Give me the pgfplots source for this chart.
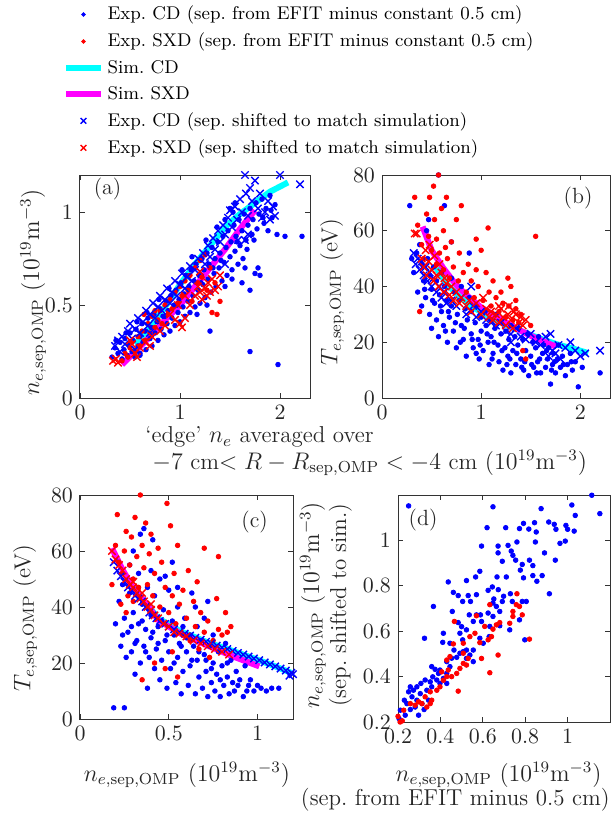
\documentclass[border=0pt]{standalone}
\usepackage{pgfplots}
\pgfplotsset{compat=1.18}
\definecolor{mcyan}{rgb}{0,1,1}
\definecolor{mmag}{rgb}{1,0,1}
\definecolor{mblue}{rgb}{0,0,1}
\definecolor{mred}{rgb}{1,0,0}

\pgfplotsset{
  panel/.style={
    scale only axis, anchor=south west,
    tick align=inside, major tick length=2.5pt,
    axis line style={black!80, line width=0.5pt},
    every tick/.style={black!80, line width=0.4pt},
    tick label style={font=\fontsize{11}{13}\selectfont, text=black!85},
    label style={font=\fontsize{11.5}{13.5}\selectfont, text=black!85},
  },
  bdot/.style={only marks, mark=*, mark size=1.15pt, mblue, mark options={draw=mblue, fill=mblue}},
  rdot/.style={only marks, mark=*, mark size=1.15pt, mred, mark options={draw=mred, fill=mred}},
  bx/.style={only marks, mark=x, mark size=2.6pt, mblue, mark options={line width=0.7pt}},
  rx/.style={only marks, mark=x, mark size=2.6pt, mred, mark options={line width=0.7pt}},
  simcd/.style={mcyan, line width=3pt, no marks},
  simsxd/.style={mmag, line width=3pt, no marks},
}

\begin{document}
\begin{tikzpicture}
\useasboundingbox (0,0) rectangle (305.5pt,-409pt);

% ---------------- (a) ----------------
\begin{axis}[panel, at={(40pt,-199pt)}, width=115pt, height=111.5pt,
  xmin=0, xmax=2.3, ymin=0, ymax=1.2,
  xtick={0,1,2}, ytick={0,0.5,1},
  ylabel={$n_{e,\mathrm{sep,OMP}}$ $(10^{19}\mathrm{m}^{-3})$},
  ylabel style={at={(axis description cs:-0.204,0.475)}, anchor=center},
  legend style={at={(axis description cs:-0.1,1.795)}, anchor=north west,
    draw=none, fill=none, font=\fontsize{9.2}{11}\selectfont, row sep=1.1pt},
  legend cell align=left]
\addlegendimage{only marks, mark=*, mark size=0.9pt, mblue}
\addlegendimage{only marks, mark=*, mark size=0.9pt, mred}
\addlegendimage{mcyan, line width=3pt}
\addlegendimage{mmag, line width=3pt}
\addlegendimage{only marks, mark=x, mark size=2pt, mblue, mark options={line width=0.7pt}}
\addlegendimage{only marks, mark=x, mark size=2pt, mred, mark options={line width=0.7pt}}
\legend{Exp.\ CD (sep.\ from EFIT minus constant 0.5 cm),
  Exp.\ SXD (sep.\ from EFIT minus constant 0.5 cm),
  Sim.\ CD, Sim.\ SXD,
  Exp.\ CD (sep.\ shifted to match simulation),
  Exp.\ SXD (sep.\ shifted to match simulation)}

\addplot[bdot, forget plot] table[row sep=\\] {x y\\
0.32 0.22\\ 0.35 0.27\\ 0.38 0.24\\ 0.40 0.30\\ 0.42 0.21\\ 0.44 0.26\\ 0.45 0.32\\ 0.47 0.23\\
0.48 0.29\\ 0.50 0.35\\ 0.52 0.25\\ 0.53 0.31\\ 0.55 0.22\\ 0.56 0.37\\ 0.58 0.28\\ 0.60 0.33\\
0.60 0.23\\ 0.62 0.40\\ 0.63 0.30\\ 0.65 0.36\\ 0.66 0.26\\ 0.68 0.43\\ 0.70 0.32\\ 0.71 0.38\\
0.72 0.28\\ 0.74 0.45\\ 0.75 0.35\\ 0.77 0.41\\ 0.78 0.31\\ 0.80 0.48\\ 0.81 0.37\\ 0.83 0.44\\
0.84 0.34\\ 0.86 0.52\\ 0.87 0.40\\ 0.88 0.47\\ 0.90 0.36\\ 0.91 0.55\\ 0.92 0.43\\ 0.94 0.50\\
0.95 0.39\\ 0.96 0.58\\ 0.98 0.46\\ 0.99 0.53\\ 1.00 0.41\\ 1.01 0.62\\ 1.03 0.49\\ 1.04 0.56\\
1.05 0.44\\ 1.06 0.66\\ 1.08 0.52\\ 1.09 0.60\\ 1.10 0.46\\ 1.11 0.69\\ 1.13 0.55\\ 1.14 0.63\\
1.15 0.49\\ 1.16 0.72\\ 1.18 0.58\\ 1.19 0.66\\ 1.20 0.51\\ 1.22 0.75\\ 1.23 0.61\\ 1.24 0.69\\
1.25 0.54\\ 1.27 0.78\\ 1.28 0.64\\ 1.29 0.72\\ 1.30 0.36\\ 1.31 0.57\\ 1.32 0.81\\ 1.34 0.67\\
1.35 0.75\\ 1.36 0.60\\ 1.38 0.84\\ 1.39 0.70\\ 1.40 0.78\\ 1.42 0.63\\ 1.43 0.87\\ 1.44 0.73\\
1.46 0.81\\ 1.47 0.66\\ 1.48 0.90\\ 1.50 0.76\\ 1.51 0.84\\ 1.52 0.69\\ 1.54 0.93\\ 1.55 0.79\\
1.56 0.87\\ 1.58 0.72\\ 1.59 0.96\\ 1.60 0.82\\ 1.62 0.90\\ 1.63 0.75\\ 1.64 0.99\\ 1.65 0.70\\
1.66 0.85\\ 1.68 0.93\\ 1.70 1.02\\ 1.70 0.58\\ 1.72 0.88\\ 1.73 0.96\\ 1.75 0.67\\ 1.76 1.05\\
1.77 0.91\\ 1.79 0.99\\ 1.80 0.66\\ 1.82 1.07\\ 1.84 0.94\\ 1.86 1.02\\ 1.88 0.90\\ 1.90 1.09\\
1.92 0.97\\ 1.95 1.04\\ 1.97 0.88\\ 2.05 0.87\\ 2.22 0.87\\ 1.70 0.25\\ 1.98 0.18\\ 0.60 0.24\\
1.78 0.70\\ 1.50 1.02\\ 1.55 1.05\\ 1.62 0.62\\ 0.36 0.31\\ 0.46 0.35\\ 0.57 0.41\\ 0.67 0.46\\
0.79 0.53\\ 0.89 0.59\\ 1.02 0.69\\ 1.12 0.76\\ 1.26 0.85\\ 1.37 0.92\\ 1.45 0.96\\ 1.53 1.00\\
0.85 0.44\\ 0.97 0.50\\ 1.21 0.62\\ 1.33 0.70\\ 1.41 0.74\\ 1.57 0.84\\ 1.67 0.80\\ 1.74 0.85\\
1.83 0.97\\ 1.91 1.01\\ 1.45 0.60\\ 1.52 0.64\\ 1.27 0.50\\ 1.17 0.45\\
};
\addplot[rdot, forget plot] table[row sep=\\] {x y\\
0.42 0.20\\ 0.45 0.24\\ 0.48 0.22\\ 0.50 0.27\\ 0.52 0.30\\ 0.55 0.25\\ 0.58 0.33\\ 0.60 0.28\\
0.62 0.36\\ 0.65 0.31\\ 0.68 0.40\\ 0.70 0.35\\ 0.72 0.44\\ 0.75 0.38\\ 0.78 0.42\\ 0.80 0.47\\
0.82 0.40\\ 0.85 0.50\\ 0.88 0.45\\ 0.90 0.53\\ 0.92 0.48\\ 0.95 0.57\\ 0.98 0.51\\ 1.00 0.60\\
1.02 0.55\\ 1.05 0.63\\ 1.08 0.58\\ 1.10 0.66\\ 1.12 0.52\\ 1.15 0.70\\ 1.18 0.62\\ 1.20 0.74\\
1.22 0.65\\ 1.25 0.77\\ 1.27 0.58\\ 1.30 0.70\\ 1.32 0.46\\ 1.35 0.62\\ 1.37 0.45\\ 1.40 0.52\\
0.64 0.45\\ 0.75 0.47\\
};
\addplot[bx, forget plot] table[row sep=\\] {x y\\
0.35 0.28\\ 0.38 0.31\\ 0.40 0.25\\ 0.42 0.33\\ 0.45 0.29\\ 0.48 0.36\\ 0.50 0.40\\ 0.52 0.32\\
0.55 0.37\\ 0.58 0.43\\ 0.60 0.35\\ 0.63 0.41\\ 0.66 0.47\\ 0.68 0.39\\ 0.70 0.45\\ 0.73 0.51\\
0.75 0.43\\ 0.78 0.49\\ 0.80 0.55\\ 0.82 0.47\\ 0.85 0.53\\ 0.87 0.59\\ 0.90 0.51\\ 0.92 0.57\\
0.95 0.63\\ 0.97 0.55\\ 1.00 0.61\\ 1.02 0.67\\ 1.05 0.59\\ 1.07 0.65\\ 1.10 0.71\\ 1.12 0.63\\
1.15 0.69\\ 1.18 0.75\\ 1.20 0.68\\ 1.23 0.78\\ 1.25 0.72\\ 1.28 0.82\\ 1.30 0.76\\ 1.33 0.86\\
1.35 0.80\\ 1.38 0.90\\ 1.40 0.84\\ 1.43 0.93\\ 1.45 0.88\\ 1.48 0.97\\ 1.50 1.01\\ 1.52 0.92\\
1.55 1.03\\ 1.57 0.96\\ 1.60 1.07\\ 1.62 1.00\\ 1.65 1.20\\ 1.66 1.10\\ 1.68 0.98\\ 1.70 1.13\\
1.72 1.06\\ 1.75 1.17\\ 1.78 1.02\\ 1.80 1.10\\ 1.82 0.97\\ 1.85 1.00\\ 1.88 1.06\\ 1.90 0.96\\
1.93 1.03\\ 1.95 0.98\\ 2.00 1.20\\ 2.20 1.15\\ 1.65 0.85\\ 1.68 0.88\\ 1.58 0.85\\ 1.45 0.72\\
0.70 0.35\\ 0.55 0.26\\
};
\addplot[rx, forget plot] table[row sep=\\] {x y\\
0.33 0.20\\ 0.36 0.21\\ 0.38 0.19\\ 0.50 0.31\\ 0.52 0.29\\ 0.55 0.24\\ 0.57 0.22\\ 0.60 0.27\\
0.65 0.30\\ 0.70 0.28\\ 0.72 0.33\\ 0.80 0.36\\ 0.85 0.39\\ 0.90 0.45\\ 0.95 0.42\\ 1.00 0.40\\
1.02 0.38\\ 1.05 0.43\\ 1.10 0.50\\ 1.15 0.55\\ 1.18 0.60\\ 1.20 0.57\\ 1.22 0.53\\ 1.25 0.59\\
1.27 0.55\\ 1.28 0.62\\ 1.30 0.57\\ 1.32 0.64\\ 1.35 0.58\\ 1.38 0.60\\ 1.40 0.66\\ 1.20 0.68\\
1.05 0.55\\ 0.98 0.50\\
};
\addplot[simcd, forget plot] table[row sep=\\] {x y\\
0.55 0.29\\ 0.70 0.38\\ 0.85 0.49\\ 1.00 0.61\\ 1.15 0.72\\ 1.30 0.82\\ 1.45 0.92\\ 1.60 0.99\\
1.75 1.05\\ 1.90 1.11\\ 2.08 1.16\\
};
\addplot[simsxd, forget plot] table[row sep=\\] {x y\\
0.42 0.18\\ 0.55 0.25\\ 0.70 0.33\\ 0.85 0.42\\ 1.00 0.50\\ 1.15 0.60\\ 1.30 0.70\\ 1.45 0.80\\
1.60 0.91\\ 1.75 1.01\\
};
\node[font=\fontsize{11}{13}\selectfont, text=black!85] at (axis description cs:0.12,0.935) {(a)};
\end{axis}

% ---------------- (b) ----------------
\begin{axis}[panel, at={(191pt,-199pt)}, width=114pt, height=111.5pt,
  xmin=0, xmax=2.3, ymin=0, ymax=80,
  xtick={0,1,2}, ytick={0,20,40,60,80},
  ylabel={$T_{e,\mathrm{sep,OMP}}$ (eV)},
  ylabel style={at={(axis description cs:-0.219,0.475)}, anchor=center}]
\addplot[bdot] table[row sep=\\] {x y\\
0.30 50\\ 0.32 45\\ 0.35 52\\ 0.36 38\\ 0.38 55\\ 0.40 33\\ 0.40 48\\ 0.42 42\\ 0.44 36\\ 0.45 60\\
0.46 50\\ 0.48 30\\ 0.48 44\\ 0.50 39\\ 0.50 25\\ 0.52 47\\ 0.53 34\\ 0.55 28\\ 0.55 42\\ 0.57 22\\
0.58 37\\ 0.60 45\\ 0.60 31\\ 0.62 26\\ 0.63 40\\ 0.65 35\\ 0.66 20\\ 0.68 29\\ 0.70 43\\ 0.70 33\\
0.72 24\\ 0.73 38\\ 0.75 18\\ 0.76 30\\ 0.78 35\\ 0.80 26\\ 0.80 40\\ 0.82 21\\ 0.84 32\\ 0.85 15\\
0.86 28\\ 0.88 36\\ 0.90 23\\ 0.90 31\\ 0.92 18\\ 0.94 27\\ 0.95 33\\ 0.97 21\\ 0.98 14\\ 1.00 29\\
1.00 24\\ 1.02 17\\ 1.04 31\\ 1.05 26\\ 1.07 20\\ 1.08 12\\ 1.10 28\\ 1.10 22\\ 1.12 16\\ 1.14 25\\
1.15 30\\ 1.17 19\\ 1.18 13\\ 1.20 23\\ 1.20 27\\ 1.22 10\\ 1.24 18\\ 1.25 24\\ 1.27 15\\ 1.28 21\\
1.30 26\\ 1.30 9\\ 1.32 17\\ 1.34 22\\ 1.35 12\\ 1.37 19\\ 1.38 25\\ 1.40 14\\ 1.42 21\\ 1.43 10\\
1.45 17\\ 1.47 23\\ 1.48 8\\ 1.50 15\\ 1.52 20\\ 1.53 11\\ 1.55 18\\ 1.57 13\\ 1.58 22\\ 1.60 9\\
1.62 16\\ 1.63 19\\ 1.65 11\\ 1.67 14\\ 1.68 18\\ 1.70 5\\ 1.72 12\\ 1.73 16\\ 1.75 9\\ 1.77 14\\
1.78 19\\ 1.80 11\\ 1.82 15\\ 1.85 8\\ 1.87 12\\ 1.90 16\\ 1.92 10\\ 1.95 13\\ 1.98 4\\ 2.02 11\\
2.20 9\\ 0.57 80\\ 0.28 69\\ 0.63 69\\ 0.88 52\\ 0.70 56\\ 0.47 64\\ 0.43 39\\ 0.51 35\\ 0.59 33\\
0.67 31\\ 0.74 27\\ 0.83 25\\ 0.91 21\\ 0.99 19\\ 1.06 23\\ 1.13 20\\ 1.21 17\\ 1.29 14\\ 1.36 16\\
1.44 13\\ 1.51 12\\ 1.59 14\\ 1.66 17\\ 1.74 13\\ 1.83 12\\ 1.91 13\\ 0.64 24\\ 0.79 20\\ 0.95 16\\
1.11 14\\ 1.26 12\\ 1.41 11\\ 1.56 9\\ 1.71 10\\
};
\addplot[rdot] table[row sep=\\] {x y\\
0.33 72\\ 0.36 62\\ 0.40 55\\ 0.42 50\\ 0.45 66\\ 0.47 58\\ 0.48 72\\ 0.50 53\\ 0.52 76\\ 0.53 64\\
0.55 48\\ 0.55 57\\ 0.57 80\\ 0.58 52\\ 0.60 68\\ 0.62 46\\ 0.62 60\\ 0.64 54\\ 0.66 50\\ 0.68 43\\
0.70 56\\ 0.72 47\\ 0.75 64\\ 0.77 42\\ 0.78 52\\ 0.80 69\\ 0.82 45\\ 0.85 38\\ 0.87 48\\ 0.90 42\\
0.93 36\\ 0.95 46\\ 0.97 40\\ 1.00 53\\ 1.02 35\\ 1.05 45\\ 1.07 61\\ 1.08 38\\ 1.10 33\\ 1.12 42\\
1.15 36\\ 1.18 31\\ 1.20 38\\ 1.22 34\\ 1.25 29\\ 1.27 43\\ 1.28 33\\ 1.30 40\\ 1.32 28\\ 1.35 32\\
1.38 27\\ 1.40 30\\ 1.42 17\\ 1.45 14\\ 1.50 26\\ 1.55 58\\ 1.35 35\\ 0.38 31\\ 0.95 57\\ 0.65 72\\
};
\addplot[bx] table[row sep=\\] {x y\\
0.32 52\\ 0.34 48\\ 0.36 50\\ 0.38 46\\ 0.40 49\\ 0.42 44\\ 0.44 47\\ 0.46 42\\ 0.48 45\\ 0.50 40\\
0.52 43\\ 0.55 38\\ 0.58 40\\ 0.60 36\\ 0.63 38\\ 0.65 34\\ 0.70 35\\ 0.75 33\\ 0.80 36\\ 0.85 30\\
0.90 40\\ 0.92 33\\ 0.95 29\\ 1.00 31\\ 1.05 28\\ 1.10 27\\ 1.15 26\\ 1.20 27\\ 1.25 24\\ 1.30 23\\
1.35 25\\ 1.40 22\\ 1.45 21\\ 1.50 23\\ 1.55 20\\ 1.60 19\\ 1.65 22\\ 1.70 23\\ 1.72 17\\ 1.75 16\\
1.78 19\\ 1.80 14\\ 1.85 18\\ 1.90 20\\ 1.95 17\\ 2.00 15\\ 2.05 16\\ 2.20 17\\ 1.68 15\\ 1.30 20\\
};
\addplot[rx] table[row sep=\\] {x y\\
0.33 59\\ 0.35 59\\ 0.40 50\\ 0.42 47\\ 0.44 53\\ 0.45 44\\ 0.47 49\\ 0.48 55\\ 0.50 46\\ 0.52 42\\
0.53 51\\ 0.55 44\\ 0.57 40\\ 0.58 48\\ 0.60 45\\ 0.62 38\\ 0.63 43\\ 0.65 41\\ 0.68 37\\ 0.70 40\\
0.72 35\\ 0.75 38\\ 0.78 34\\ 0.80 36\\ 0.85 33\\ 0.88 35\\ 0.90 31\\ 0.95 34\\ 1.00 30\\ 1.02 36\\
1.05 32\\ 1.08 29\\ 1.10 31\\ 1.12 28\\ 1.15 30\\ 1.18 27\\ 1.20 32\\ 1.22 29\\ 1.25 26\\ 1.27 30\\
1.30 28\\ 1.32 25\\ 1.35 30\\ 1.38 27\\ 1.40 29\\ 1.42 26\\ 1.45 28\\ 1.28 33\\ 1.33 31\\ 1.18 33\\
};
\addplot[simcd] table[row sep=\\] {x y\\
0.55 46.6\\ 0.65 41\\ 0.78 36.4\\ 0.92 32.5\\ 1.05 29.9\\ 1.25 26.3\\ 1.45 23.3\\ 1.62 21\\
1.78 19.1\\ 1.95 17.5\\ 2.08 16.1\\
};
\addplot[simsxd] table[row sep=\\] {x y\\
0.41 61.5\\ 0.50 53\\ 0.62 46.5\\ 0.75 40.5\\ 0.85 37\\ 1.00 32.5\\ 1.18 28.7\\ 1.35 25\\
1.52 22\\ 1.65 20\\ 1.75 18.5\\
};
\node[font=\fontsize{11}{13}\selectfont, text=black!85] at (axis description cs:0.86,0.897) {(b)};
\end{axis}

% ---------------- (c) ----------------
\begin{axis}[panel, at={(40pt,-359.5pt)}, width=106.5pt, height=112pt,
  xmin=0, xmax=1.2, ymin=0, ymax=80,
  xtick={0,0.5,1}, ytick={0,20,40,60,80},
  ylabel={$T_{e,\mathrm{sep,OMP}}$ (eV)},
  ylabel style={at={(axis description cs:-0.258,0.451)}, anchor=center},
  xlabel={$n_{e,\mathrm{sep,OMP}}$ $(10^{19}\mathrm{m}^{-3})$},
  xlabel style={at={(axis description cs:0.502,-0.25)}, anchor=center}]
\addplot[bdot] table[row sep=\\] {x y\\
0.19 4\\ 0.25 4\\ 0.20 34\\ 0.22 42\\ 0.23 26\\ 0.24 48\\ 0.25 36\\ 0.26 22\\ 0.27 31\\ 0.28 45\\
0.29 24\\ 0.30 38\\ 0.31 16\\ 0.32 28\\ 0.33 52\\ 0.33 34\\ 0.34 20\\ 0.35 41\\ 0.36 26\\ 0.36 68\\
0.37 32\\ 0.38 11\\ 0.38 47\\ 0.39 22\\ 0.40 37\\ 0.40 29\\ 0.41 64\\ 0.42 18\\ 0.42 44\\ 0.43 25\\
0.44 33\\ 0.45 50\\ 0.45 14\\ 0.46 21\\ 0.47 39\\ 0.48 28\\ 0.49 11\\ 0.50 46\\ 0.50 24\\ 0.51 18\\
0.52 35\\ 0.53 30\\ 0.54 13\\ 0.55 40\\ 0.55 22\\ 0.56 27\\ 0.57 9\\ 0.58 33\\ 0.58 17\\ 0.59 36\\
0.60 24\\ 0.61 12\\ 0.62 30\\ 0.62 19\\ 0.63 45\\ 0.64 26\\ 0.65 9\\ 0.66 21\\ 0.66 33\\ 0.67 15\\
0.68 28\\ 0.69 11\\ 0.70 23\\ 0.70 36\\ 0.71 17\\ 0.72 8\\ 0.73 26\\ 0.74 13\\ 0.75 20\\ 0.75 30\\
0.76 10\\ 0.77 16\\ 0.78 24\\ 0.79 8\\ 0.80 19\\ 0.81 12\\ 0.82 27\\ 0.83 15\\ 0.84 9\\ 0.85 21\\
0.86 13\\ 0.87 10\\ 0.88 17\\ 0.90 14\\ 0.92 8\\ 0.93 19\\ 0.95 12\\ 0.96 14\\ 0.98 10\\ 1.00 12\\
1.02 11\\ 1.05 10\\ 1.08 11\\ 1.12 11\\ 0.40 53\\ 0.48 51\\ 0.30 60\\ 0.28 55\\ 0.55 47\\ 0.65 40\\
0.72 42\\ 0.34 66\\ 0.52 56\\ 0.24 30\\ 0.29 33\\ 0.31 27\\ 0.35 35\\ 0.37 24\\ 0.41 31\\ 0.44 27\\
0.46 35\\ 0.49 30\\ 0.53 20\\ 0.57 26\\ 0.60 29\\ 0.63 21\\ 0.67 24\\ 0.71 21\\ 0.74 18\\ 0.79 14\\
0.83 20\\ 0.89 12\\ 0.94 10\\
};
\addplot[rdot] table[row sep=\\] {x y\\
0.18 48\\ 0.20 62\\ 0.21 73\\ 0.22 56\\ 0.23 41\\ 0.24 52\\ 0.25 60\\ 0.26 67\\ 0.27 44\\ 0.28 55\\
0.29 65\\ 0.30 50\\ 0.31 72\\ 0.32 58\\ 0.33 47\\ 0.34 80\\ 0.35 62\\ 0.36 54\\ 0.37 70\\ 0.38 48\\
0.39 59\\ 0.40 66\\ 0.41 44\\ 0.42 52\\ 0.44 61\\ 0.45 40\\ 0.46 56\\ 0.48 47\\ 0.49 77\\ 0.50 38\\
0.51 69\\ 0.52 44\\ 0.53 52\\ 0.54 34\\ 0.55 62\\ 0.56 41\\ 0.58 30\\ 0.58 46\\ 0.60 36\\ 0.61 53\\
0.62 28\\ 0.64 42\\ 0.65 33\\ 0.66 49\\ 0.67 25\\ 0.68 38\\ 0.70 31\\ 0.70 61\\ 0.72 35\\ 0.73 22\\
0.75 28\\ 0.77 43\\ 0.78 32\\ 0.80 30\\ 0.82 38\\ 0.83 31\\ 0.85 33\\ 0.78 58\\ 0.35 14\\ 0.42 20\\
0.48 18\\ 0.55 15\\ 0.30 42\\ 0.26 38\\ 0.52 24\\
};
\addplot[bx] table[row sep=\\] {x y\\
0.19 56\\ 0.21 53\\ 0.23 51\\ 0.25 49\\ 0.27 47\\ 0.29 46\\ 0.31 44\\ 0.33 43\\ 0.35 42\\ 0.37 40\\
0.39 38\\ 0.41 37\\ 0.43 36\\ 0.45 35\\ 0.48 34\\ 0.50 33\\ 0.53 32\\ 0.56 31\\ 0.59 30.5\\ 0.62 29.8\\
0.65 29\\ 0.68 28.3\\ 0.71 27.6\\ 0.74 27\\ 0.77 26.2\\ 0.80 25.5\\ 0.83 25\\ 0.86 24.3\\ 0.89 23.6\\
0.92 23\\ 0.95 22.3\\ 0.98 21.6\\ 1.01 21\\ 1.04 20.2\\ 1.07 19.5\\ 1.10 18.8\\ 1.13 18\\ 1.16 17.3\\
1.19 16.5\\ 1.18 15.5\\ 1.20 16\\
};
\addplot[rx] table[row sep=\\] {x y\\
0.18 60\\ 0.20 57\\ 0.22 55\\ 0.24 53\\ 0.26 50\\ 0.28 48\\ 0.30 47\\ 0.32 45\\ 0.34 43\\ 0.36 42\\
0.38 40\\ 0.40 39\\ 0.42 37\\ 0.44 36\\ 0.47 34\\ 0.50 33\\ 0.53 31\\ 0.56 30.5\\ 0.60 29.5\\ 0.64 28\\
0.68 27\\ 0.72 26\\ 0.76 25\\ 0.80 24\\ 0.84 23\\ 0.30 49\\ 0.35 45\\ 0.40 41\\
};
\addplot[simcd] table[row sep=\\] {x y\\
0.30 46.5\\ 0.37 41.5\\ 0.44 36\\ 0.56 31.5\\ 0.71 27.6\\ 0.86 24.3\\ 1.00 21.2\\ 1.10 18.8\\ 1.19 16.5\\
};
\addplot[simsxd] table[row sep=\\] {x y\\
0.18 61\\ 0.24 53.3\\ 0.30 46.7\\ 0.37 41.4\\ 0.44 35.4\\ 0.56 30.7\\ 0.71 26.5\\ 0.86 22.4\\ 1.01 18.8\\
};
\node[font=\fontsize{11}{13}\selectfont, text=black!85] at (axis description cs:0.82,0.88) {(c)};
\end{axis}

% ---------------- (d) ----------------
\begin{axis}[panel, at={(199pt,-361pt)}, width=106pt, height=113.5pt,
  xmin=0.2, xmax=1.2, ymin=0.2, ymax=1.2,
  xtick={0.2,0.4,0.6,0.8,1}, ytick={0.2,0.4,0.6,0.8,1},
  ylabel={$n_{e,\mathrm{sep,OMP}}$ $(10^{19}\mathrm{m}^{-3})$\\(sep.\ shifted to sim.)},
  ylabel style={at={(axis description cs:-0.34,0.515)}, anchor=center, align=center}]
\addplot[bdot] table[row sep=\\] {x y\\
0.250 1.152\\ 0.648 1.148\\ 1.114 1.199\\ 1.152 1.118\\ 1.020 1.156\\ 1.036 1.110\\ 0.875 1.140\\
0.817 1.050\\ 0.844 1.078\\ 0.852 1.037\\ 0.773 1.052\\ 0.792 1.075\\ 0.708 1.056\\ 0.620 1.056\\
0.594 0.975\\ 0.672 0.975\\ 0.672 0.945\\ 0.719 0.978\\ 0.761 0.993\\ 0.734 0.953\\ 0.742 0.934\\
0.755 0.913\\ 0.692 0.908\\ 0.786 0.894\\ 0.820 0.913\\ 0.836 0.889\\ 0.848 0.993\\ 0.911 1.081\\
0.937 1.071\\ 0.945 1.049\\ 0.992 1.066\\ 1.000 1.049\\ 1.031 1.041\\ 0.964 0.987\\ 0.989 0.997\\
0.891 0.945\\ 0.942 0.913\\ 0.777 0.869\\ 0.792 0.835\\ 0.836 0.845\\ 0.855 0.820\\ 0.880 0.845\\
0.914 0.765\\ 0.805 0.731\\ 0.798 0.562\\ 0.586 0.864\\ 0.566 0.839\\ 0.523 0.823\\ 0.437 0.817\\
0.461 0.771\\ 0.484 0.757\\ 0.531 0.757\\ 0.570 0.761\\ 0.645 0.795\\ 0.667 0.839\\ 0.711 0.839\\
0.673 0.783\\ 0.625 0.780\\ 0.652 0.742\\ 0.648 0.724\\ 0.664 0.709\\ 0.692 0.731\\ 0.698 0.754\\
0.730 0.765\\ 0.739 0.731\\ 0.786 0.731\\ 0.505 0.731\\ 0.542 0.731\\ 0.456 0.687\\ 0.536 0.672\\
0.570 0.672\\ 0.589 0.672\\ 0.555 0.643\\ 0.594 0.643\\ 0.680 0.687\\ 0.648 0.665\\ 0.625 0.680\\
0.633 0.621\\ 0.630 0.576\\ 0.680 0.624\\ 0.727 0.606\\ 0.773 0.650\\ 0.484 0.638\\ 0.500 0.620\\
0.523 0.606\\ 0.492 0.591\\ 0.505 0.562\\ 0.586 0.569\\ 0.602 0.547\\ 0.414 0.591\\ 0.411 0.551\\
0.325 0.569\\ 0.367 0.709\\ 0.445 0.547\\ 0.464 0.517\\ 0.477 0.485\\ 0.492 0.503\\ 0.508 0.510\\
0.523 0.517\\ 0.539 0.495\\ 0.555 0.517\\ 0.523 0.480\\ 0.555 0.466\\ 0.453 0.481\\ 0.430 0.466\\
0.359 0.444\\ 0.375 0.432\\ 0.391 0.414\\ 0.364 0.399\\ 0.383 0.385\\ 0.398 0.370\\ 0.414 0.392\\
0.430 0.414\\ 0.352 0.377\\ 0.328 0.385\\ 0.308 0.370\\ 0.289 0.355\\ 0.273 0.340\\ 0.258 0.355\\
0.250 0.333\\ 0.266 0.311\\ 0.289 0.296\\ 0.305 0.325\\ 0.336 0.340\\ 0.359 0.355\\ 0.230 0.296\\
0.242 0.281\\ 0.258 0.255\\ 0.281 0.266\\ 0.313 0.281\\ 0.323 0.255\\ 0.211 0.252\\ 0.205 0.215\\
0.234 0.230\\ 0.297 0.230\\ 0.344 0.296\\ 0.398 0.429\\ 0.430 0.370\\ 0.445 0.444\\
};
\addplot[rdot] table[row sep=\\] {x y\\
0.200 0.225\\ 0.210 0.200\\ 0.220 0.205\\ 0.227 0.252\\ 0.258 0.281\\ 0.281 0.274\\ 0.297 0.289\\
0.313 0.281\\ 0.336 0.266\\ 0.352 0.281\\ 0.359 0.296\\ 0.328 0.311\\ 0.352 0.333\\ 0.383 0.340\\
0.398 0.355\\ 0.414 0.384\\ 0.430 0.400\\ 0.406 0.421\\ 0.437 0.429\\ 0.453 0.400\\ 0.477 0.414\\
0.484 0.336\\ 0.492 0.436\\ 0.508 0.458\\ 0.523 0.451\\ 0.531 0.480\\ 0.508 0.503\\ 0.461 0.544\\
0.466 0.643\\ 0.508 0.547\\ 0.539 0.576\\ 0.563 0.591\\ 0.570 0.668\\ 0.586 0.550\\ 0.594 0.480\\
0.609 0.621\\ 0.625 0.562\\ 0.633 0.417\\ 0.641 0.576\\ 0.648 0.609\\ 0.633 0.717\\ 0.672 0.495\\
0.664 0.628\\ 0.680 0.638\\ 0.727 0.635\\ 0.742 0.687\\ 0.742 0.665\\ 0.758 0.717\\ 0.761 0.765\\
0.773 0.709\\ 0.786 0.672\\ 0.820 0.565\\ 0.445 0.488\\ 0.430 0.473\\
};
\node[font=\fontsize{11}{13}\selectfont, text=black!85] at (axis description cs:0.118,0.89) {(d)};
\end{axis}

% shared and two-line axis labels
\begin{scope}[every node/.style={font=\fontsize{11.5}{13.5}\selectfont, text=black!85, inner sep=0pt}]
\node[anchor=west] at (72.5pt,-218.5pt) {`edge' $n_e$ averaged over};
\node[anchor=west] at (76pt,-231.5pt) {$-7$ cm$<R-R_{\mathrm{sep,OMP}}<-4$ cm $(10^{19}\mathrm{m}^{-3})$};
\node[anchor=east] at (301pt,-387.5pt) {$n_{e,\mathrm{sep,OMP}}$ $(10^{19}\mathrm{m}^{-3})$};
\node[anchor=east] at (305pt,-400pt) {(sep.\ from EFIT minus 0.5 cm)};
\end{scope}
\end{tikzpicture}
\end{document}
